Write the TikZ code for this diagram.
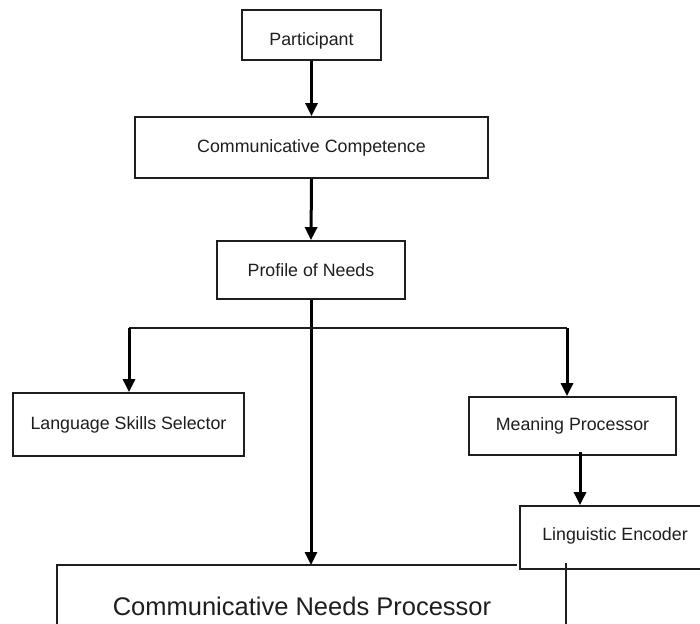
\documentclass[tikz,border=0pt]{standalone}
\usepackage{fontspec}
\setmainfont{Liberation Sans}
\usetikzlibrary{arrows.meta}
\definecolor{ink}{HTML}{1E1E1E}
\begin{document}
\begin{tikzpicture}[x=1pt,y=-1pt,
  box/.style={draw=ink,line width=1.8pt,rectangle,inner sep=0pt,text=ink,
    font=\fontsize{17.8}{20}\selectfont},
  lbl/.style={inner sep=0pt,text=ink},
  line/.style={draw=ink,line width=1.8pt},
  arr/.style={draw=black,line width=3pt,-{Triangle[length=13pt,width=12pt]}}]
\useasboundingbox (0,0) rectangle (700,623);
\clip (0,0) rectangle (700,623);
\fill[white] (0,0) rectangle (700,623);
% boxes
\node[box,minimum width=139pt,minimum height=50pt] (part) at (311.5,35) {};
\node[lbl,font=\fontsize{17.8}{20}\selectfont] (partt) at (311.5,41) {Participant};
\node[box,minimum width=353pt,minimum height=61pt] (cc) at (311.5,147.5) {Communicative Competence};
\node[box,minimum width=188pt,minimum height=58pt] (prof) at (311,270) {Profile of Needs};
\node[box,minimum width=231pt,minimum height=63pt] (lss) at (128.5,424.5) {Language Skills Selector};
\node[box,minimum width=207pt,minimum height=58pt] (mp) at (572.5,426) {Meaning Processor};
\node[box,minimum width=200pt,minimum height=63pt,fill=white] (le) at (620,537.5) {};
\node[lbl,font=\fontsize{17.8}{20}\selectfont] (let) at (615,536) {Linguistic Encoder};
% Communicative Needs Processor (open box)
\coordinate (cnptl) at (57,565);
\coordinate (cnptr) at (517,565);
\coordinate (cnprt) at (566,563);
\draw[line] (cnptr) -- (cnptl) -- (57,640);
\draw[line] (cnprt) -- (566,640);
\node[lbl,font=\fontsize{25.5}{30}\selectfont] (cnp) at (302,606) {Communicative Needs Processor};
\coordinate (cnpin) at (311,565);
% connectors
\draw[arr] (part.south) -- (cc.north);
\draw[arr] (cc.south) -- (prof.north);
\draw[arr] (prof.south) -- (cnpin);
\coordinate (jl) at (129,328);
\coordinate (jr) at (567,328);
\draw[line] (jl) -- (jr);
\draw[arr] (jl) -- (jl |- lss.north);
\draw[arr] (jr) -- (jr |- mp.north);
\coordinate (mpo) at (580,452);
\draw[arr] (mpo) -- (mpo |- le.north);
\end{tikzpicture}
\end{document}
